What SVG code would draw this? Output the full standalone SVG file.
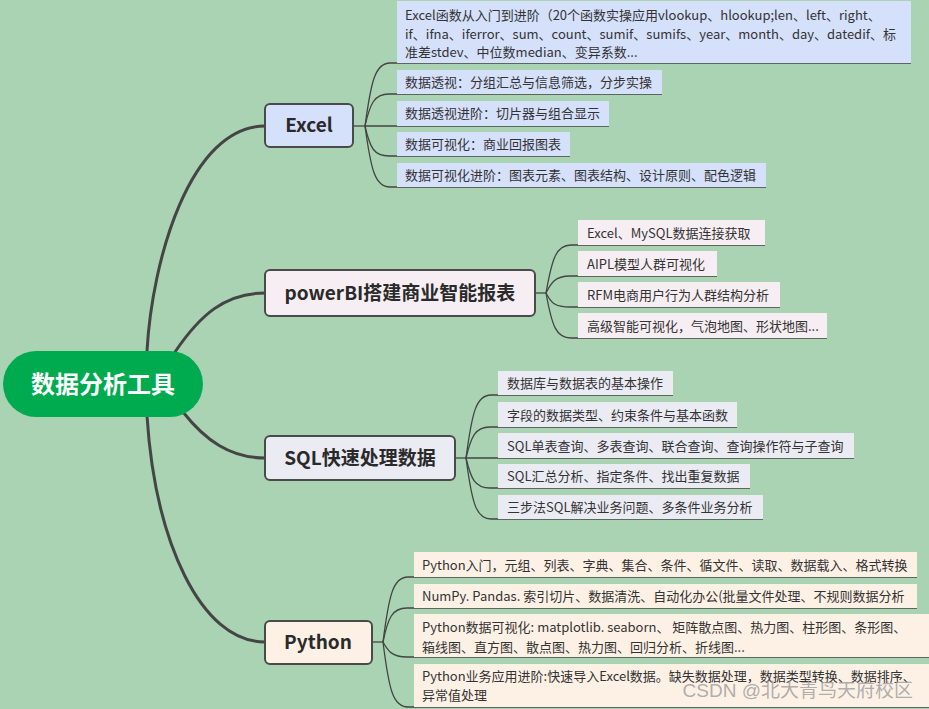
<svg xmlns="http://www.w3.org/2000/svg" width="929" height="709" viewBox="0 0 929 709">
<style>
.bg{fill:#a9d3b3}
.main{fill:none;stroke:#454545;stroke-width:3;stroke-linecap:round}
.leafline{fill:none;stroke:#444;stroke-width:1.3}
.node{stroke:#4a4a4a;stroke-width:2}
.ntext{font-family:"Noto Sans CJK SC","Liberation Sans",sans-serif;font-weight:bold;font-size:19px;fill:#2a2a2a;text-anchor:middle}
.ltext{font-family:"Noto Sans CJK SC","Liberation Sans",sans-serif;font-size:13px;fill:#333}
.ex{fill:#d5e0fb}
.pb{fill:#f6eef2}
.sq{fill:#ebebf4}
.py{fill:#fdf1e6}
</style>
<rect class="bg" x="0" y="0" width="929" height="709"/>

<g id="connectors">
  <path class="main" d="M147,351 C152,260 190,126 265,126"/>
  <path class="main" d="M175,352 C200,315 225,293 265,293"/>
  <path class="main" d="M183,412 C205,440 230,458 265,458"/>
  <path class="main" d="M147,416 C155,540 200,642 265,642"/>
  <!-- Excel -->
  <path class="leafline" d="M353,126 L365,126"/>
  <path class="leafline" d="M365,126 C371,82 375,63 390,63 L911,63"/>
  <path class="leafline" d="M365,126 C370,104 374,94 389,94 L662,94"/>
  <path class="leafline" d="M365,126 L609,126"/>
  <path class="leafline" d="M365,126 C370,148 374,156 389,156 L570,156"/>
  <path class="leafline" d="M365,126 C371,170 375,187 390,187 L766,187"/>
  <!-- powerBI -->
  <path class="leafline" d="M535,293 L546,293"/>
  <path class="leafline" d="M546,293 C552,259 556,245 571,245 L765,245"/>
  <path class="leafline" d="M546,293 C551,283 555,276 570,276 L717,276"/>
  <path class="leafline" d="M546,293 C551,303 555,307 570,307 L780,307"/>
  <path class="leafline" d="M546,293 C552,326 556,338 571,338 L827,338"/>
  <!-- SQL -->
  <path class="leafline" d="M455,458 L466,458"/>
  <path class="leafline" d="M466,458 C472,413 476,395 491,395 L673,395"/>
  <path class="leafline" d="M466,458 C471,437 475,427 490,427 L737,427"/>
  <path class="leafline" d="M466,458 L854,458"/>
  <path class="leafline" d="M466,458 C471,479 475,488 490,488 L750,488"/>
  <path class="leafline" d="M466,458 C472,503 476,519 491,519 L763,519"/>
  <!-- Python -->
  <path class="leafline" d="M372,642 L383,642"/>
  <path class="leafline" d="M383,642 C389,595 393,577 408,577 L917,577"/>
  <path class="leafline" d="M383,642 C388,618 392,608 407,608 L917,608"/>
  <path class="leafline" d="M383,642 C388,651 392,657 407,657 L929,657"/>
  <path class="leafline" d="M383,642 C389,690 393,707 408,707 L929,707"/>
</g>

<g id="root">
  <rect x="3" y="351" width="200" height="66" rx="33" fill="#00aa4f"/>
  <text x="103" y="393" font-family="'Noto Sans CJK SC',sans-serif" font-weight="bold" font-size="24" fill="#ffffff" text-anchor="middle">数据分析工具</text>
</g>

<g id="excel">
  <rect class="node ex" x="265" y="104" width="88" height="43" rx="5"/>
  <text class="ntext" x="309" y="132">Excel</text>
</g>
<g id="excel-1">
  <rect class="ex" x="397" y="1" width="514" height="62"/>
  <text class="ltext" x="405" y="20">Excel函数从入门到进阶（20个函数实操应用vlookup、hlookup;len、left、right、</text>
  <text class="ltext" x="405" y="39">if、ifna、iferror、sum、count、sumif、sumifs、year、month、day、datedif、标</text>
  <text class="ltext" x="405" y="57">准差stdev、中位数median、变异系数...</text>
</g>
<g id="excel-2">
  <rect class="ex" x="397" y="70" width="265" height="24"/>
  <text class="ltext" x="405" y="87">数据透视：分组汇总与信息筛选，分步实操</text>
</g>
<g id="excel-3">
  <rect class="ex" x="397" y="101" width="212" height="25"/>
  <text class="ltext" x="405" y="118">数据透视进阶：切片器与组合显示</text>
</g>
<g id="excel-4">
  <rect class="ex" x="397" y="132" width="173" height="24"/>
  <text class="ltext" x="405" y="149">数据可视化：商业回报图表</text>
</g>
<g id="excel-5">
  <rect class="ex" x="397" y="163" width="369" height="24"/>
  <text class="ltext" x="405" y="180">数据可视化进阶：图表元素、图表结构、设计原则、配色逻辑</text>
</g>

<g id="powerbi">
  <rect class="node pb" x="265" y="270" width="270" height="46" rx="5"/>
  <text class="ntext" x="400" y="300">powerBI搭建商业智能报表</text>
</g>
<g id="powerbi-1">
  <rect class="pb" x="578" y="220" width="187" height="25"/>
  <text class="ltext" x="587" y="238">Excel、MySQL数据连接获取</text>
</g>
<g id="powerbi-2">
  <rect class="pb" x="578" y="251" width="139" height="25"/>
  <text class="ltext" x="587" y="269">AIPL模型人群可视化</text>
</g>
<g id="powerbi-3">
  <rect class="pb" x="578" y="282" width="202" height="25"/>
  <text class="ltext" x="587" y="300">RFM电商用户行为人群结构分析</text>
</g>
<g id="powerbi-4">
  <rect class="pb" x="578" y="313" width="249" height="25"/>
  <text class="ltext" x="587" y="331">高级智能可视化，气泡地图、形状地图...</text>
</g>

<g id="sql">
  <rect class="node sq" x="265" y="436" width="190" height="44" rx="5"/>
  <text class="ntext" x="360" y="465">SQL快速处理数据</text>
</g>
<g id="sql-1">
  <rect class="sq" x="498" y="371" width="175" height="24"/>
  <text class="ltext" x="507" y="388">数据库与数据表的基本操作</text>
</g>
<g id="sql-2">
  <rect class="sq" x="498" y="402" width="239" height="25"/>
  <text class="ltext" x="507" y="420">字段的数据类型、约束条件与基本函数</text>
</g>
<g id="sql-3">
  <rect class="sq" x="498" y="433" width="356" height="25"/>
  <text class="ltext" x="507" y="451">SQL单表查询、多表查询、联合查询、查询操作符与子查询</text>
</g>
<g id="sql-4">
  <rect class="sq" x="498" y="464" width="252" height="24"/>
  <text class="ltext" x="507" y="481">SQL汇总分析、指定条件、找出重复数据</text>
</g>
<g id="sql-5">
  <rect class="sq" x="498" y="495" width="265" height="24"/>
  <text class="ltext" x="507" y="512">三步法SQL解决业务问题、多条件业务分析</text>
</g>

<g id="python">
  <rect class="node py" x="265" y="621" width="107" height="43" rx="5"/>
  <text class="ntext" x="318" y="649">Python</text>
</g>
<g id="python-1">
  <rect class="py" x="414" y="552" width="503" height="25"/>
  <text class="ltext" x="422" y="570">Python入门，元组、列表、字典、集合、条件、循文件、读取、数据载入、格式转换</text>
</g>
<g id="python-2">
  <rect class="py" x="414" y="584" width="503" height="24"/>
  <text class="ltext" x="422" y="601">NumPy. Pandas. 索引切片、数据清洗、自动化办公(批量文件处理、不规则数据分析</text>
</g>
<g id="python-3">
  <rect class="py" x="414" y="614" width="515" height="43"/>
  <text class="ltext" x="422" y="632">Python数据可视化: matplotlib. seaborn、 矩阵散点图、热力图、柱形图、条形图、</text>
  <text class="ltext" x="422" y="652">箱线图、直方图、散点图、热力图、回归分析、折线图...</text>
</g>
<g id="python-4">
  <rect class="py" x="414" y="664" width="515" height="43"/>
  <text class="ltext" x="422" y="681">Python业务应用进阶:快速导入Excel数据。缺失数据处理，数据类型转换、数据排序、</text>
  <text class="ltext" x="422" y="700">异常值处理</text>
</g>

<text x="913" y="697" font-family="'Liberation Sans','Noto Sans CJK SC',sans-serif" font-size="19" fill="#9b9b9b" fill-opacity="0.8" text-anchor="end">CSDN @北大青鸟天府校区</text>
</svg>
